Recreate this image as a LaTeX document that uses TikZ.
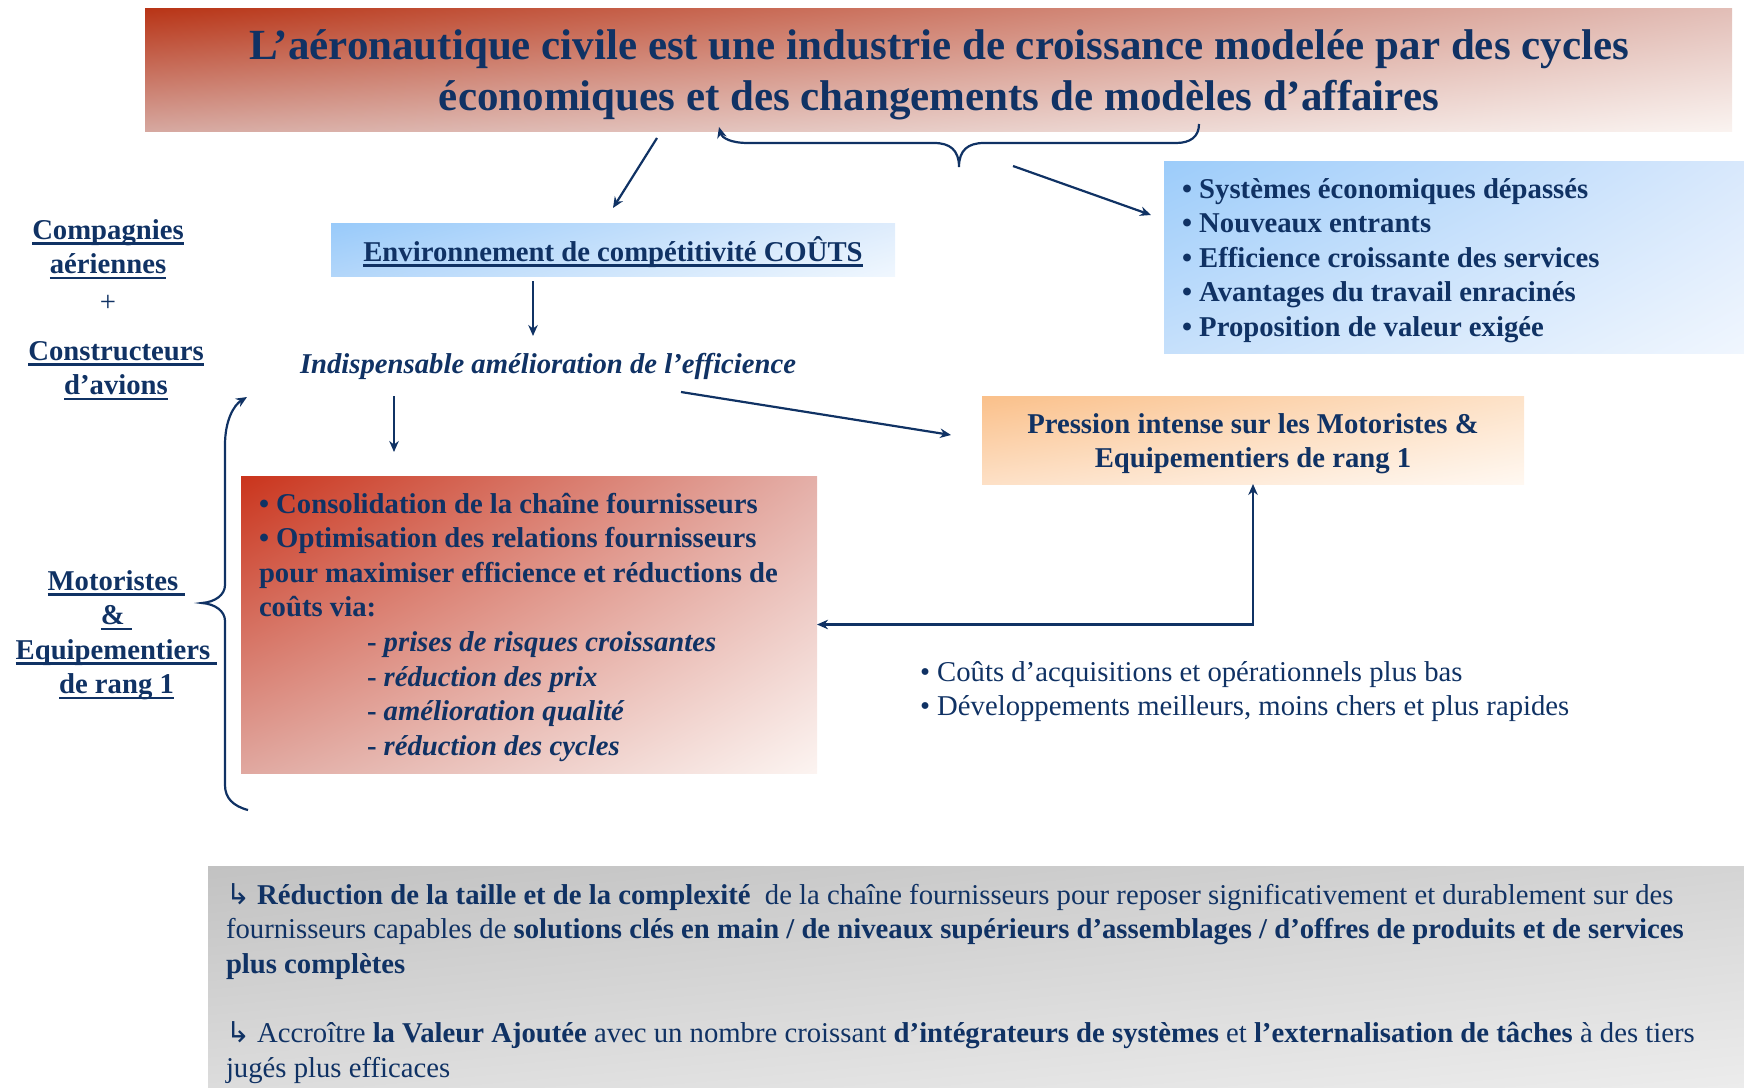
\documentclass[tikz,border=0pt]{standalone}
\usepackage{fontspec}
\setmainfont{Liberation Serif}
\newfontfamily\symfont{DejaVu Sans}
\usetikzlibrary{arrows.meta,calc,shadings}
\definecolor{navy}{RGB}{16,50,100}
\definecolor{tUL}{RGB}{184,52,22}\definecolor{tUR}{RGB}{226,190,183}\definecolor{tLL}{RGB}{214,168,160}\definecolor{tLR}{RGB}{250,243,240}
\definecolor{rUL}{RGB}{202,52,28}\definecolor{rUR}{RGB}{228,175,168}\definecolor{rLL}{RGB}{224,168,160}\definecolor{rLR}{RGB}{252,244,241}
\definecolor{pUL}{RGB}{250,192,138}\definecolor{pUR}{RGB}{253,226,200}\definecolor{pLL}{RGB}{253,224,198}\definecolor{pLR}{RGB}{255,248,241}
\definecolor{eUL}{RGB}{152,202,250}\definecolor{eUR}{RGB}{222,236,252}\definecolor{eLL}{RGB}{178,214,250}\definecolor{eLR}{RGB}{240,247,254}
\definecolor{sUL}{RGB}{156,204,250}\definecolor{sUR}{RGB}{216,232,252}\definecolor{sLL}{RGB}{198,224,251}\definecolor{sLR}{RGB}{240,246,254}
\definecolor{gUL}{RGB}{194,194,194}\definecolor{gUR}{RGB}{212,212,212}\definecolor{gLL}{RGB}{220,220,220}\definecolor{gLR}{RGB}{236,236,236}
\newcommand\bodysize{\fontsize{28.7}{34.6}\selectfont}
\newcommand\titlesize{\fontsize{43}{51.5}\selectfont}
\newcommand\myul[1]{\setbox0=\hbox{#1}\rlap{\rule[-5.5pt]{\wd0}{2.4pt}}\box0}
\newcommand\arw{{\symfont ↳}}
\tikzset{
  box/.style={rectangle,inner sep=0pt,outer sep=0pt,draw=none},
  txt/.style={text=navy,inner sep=0pt,outer sep=0pt,font=\bodysize},
  arr/.style={draw=navy,line width=2.2pt,-{Stealth[length=11pt,width=9.5pt]}},
  arrboth/.style={draw=navy,line width=2.2pt,{Stealth[length=11pt,width=9.5pt]}-{Stealth[length=11pt,width=9.5pt]}},
}
\begin{document}
\begin{tikzpicture}[x=1pt,y=-1pt]
\useasboundingbox (0,0) rectangle (1744,1087);
% boxes
\node[box,minimum width=1587pt,minimum height=123pt,upper left=tUL,upper right=tUR,lower left=tLL,lower right=tLR] (title) at (938.5,69.5) {};
\node[box,minimum width=564pt,minimum height=53pt,upper left=eUL,upper right=eUR,lower left=eLL,lower right=eLR] (env) at (613,249.5) {};
\node[box,minimum width=580pt,minimum height=192pt,upper left=sUL,upper right=sUR,lower left=sLL,lower right=sLR] (sys) at (1454,257) {};
\node[box,minimum width=542pt,minimum height=88pt,upper left=pUL,upper right=pUR,lower left=pLL,lower right=pLR] (press) at (1253,440) {};
\node[box,minimum width=576pt,minimum height=297pt,upper left=rUL,upper right=rUR,lower left=rLL,lower right=rLR] (red) at (529,624.5) {};
\node[box,minimum width=1536pt,minimum height=221pt,upper left=gUL,upper right=gUR,lower left=gLL,lower right=gLR] (gray) at (976,976.5) {};
% texts
\node[txt,font=\titlesize\bfseries,anchor=base] (titletext) at (939,59) {\begin{tabular}[t]{@{}c@{}}L’aéronautique civile est une industrie de croissance modelée par des cycles\\ économiques et des changements de modèles d’affaires\end{tabular}};
\node[txt,font=\bodysize\bfseries,anchor=base] (envtext) at (613,261) {\myul{Environnement de compétitivité COÛTS}};
\node[txt,font=\bodysize\bfseries\itshape,anchor=base west] (indisp) at (300,373) {Indispensable amélioration de l’efficience};
\node[txt,font=\bodysize\bfseries,anchor=base west] (systext) at (1182,198) {\begin{tabular}[t]{@{}l@{}}• Systèmes économiques dépassés\\ • Nouveaux entrants\\ • Efficience croissante des services\\ • Avantages du travail enracinés\\ • Proposition de valeur exigée\end{tabular}};
\node[txt,font=\bodysize\bfseries,anchor=base] (presstext) at (1253,433) {\begin{tabular}[t]{@{}c@{}}Pression intense sur les Motoristes \&\\ Equipementiers de rang 1\end{tabular}};
\node[txt,font=\bodysize\bfseries,anchor=base west] (redtext) at (259,513) {\begin{tabular}[t]{@{}l@{}}• Consolidation de la chaîne fournisseurs\\ • Optimisation des relations fournisseurs\\ pour maximiser efficience et réductions de\\ coûts via:\\ \hspace{108pt}- \textit{prises de risques croissantes}\\ \hspace{108pt}- \textit{réduction des prix}\\ \hspace{108pt}- \textit{amélioration qualité}\\ \hspace{108pt}- \textit{réduction des cycles}\end{tabular}};
\node[txt,anchor=base west] (coutstext) at (920,681) {\begin{tabular}[t]{@{}l@{}}• Coûts d’acquisitions et opérationnels plus bas\\ • Développements meilleurs, moins chers et plus rapides\end{tabular}};
\node[txt,font=\bodysize\bfseries,anchor=base] (lab1) at (108,239) {\begin{tabular}[t]{@{}c@{}}\myul{Compagnies}\\ \myul{aériennes}\\[3pt] \mdseries +\end{tabular}};
\node[txt,font=\bodysize\bfseries,anchor=base] (lab2) at (116,360) {\begin{tabular}[t]{@{}c@{}}\myul{Constructeurs}\\ \myul{d’avions}\end{tabular}};
\node[txt,font=\bodysize\bfseries,anchor=base] (lab3) at (116.5,590) {\begin{tabular}[t]{@{}c@{}}\myul{Motoristes\ }\\ \myul{\&\ }\\ \myul{Equipementiers\ }\\ \myul{de rang 1}\end{tabular}};
\node[txt,anchor=base west] (graytext) at (226,904) {\begin{tabular}[t]{@{}l@{}}\arw{} \textbf{Réduction de la taille et de la complexité}\ \ de la chaîne fournisseurs pour reposer significativement et durablement sur des\\ fournisseurs capables de \textbf{solutions clés en main / de niveaux supérieurs d’assemblages / d’offres de produits et de services}\\ \textbf{plus complètes}\\ \\ \arw{} Accroître \textbf{la Valeur Ajoutée} avec un nombre croissant \textbf{d’intégrateurs de systèmes} et \textbf{l’externalisation de tâches} à des tiers\\ jugés plus efficaces\end{tabular}};
% braces
\coordinate (braceR) at (1199,124);
\coordinate (bracetip) at (959,167);
\coordinate (braceL) at (719,127);
\draw[arr] (braceR) .. controls (1199,137) and (1190,143) .. (1176,143) -- (984,143) .. controls (968,143) and (959,150) .. (bracetip) .. controls (959,150) and (950,143) .. (934,143) -- (748,143) .. controls (731,143) and (722,138) .. (braceL);
\coordinate (lbBot) at (248,810);
\coordinate (lbTip) at (202,603);
\coordinate (lbTop) at (247,397);
\draw[arr] (lbBot) .. controls (233,806) and (225,798) .. (225,785) -- (225,621) .. controls (225,611) and (215,604) .. (lbTip) .. controls (215,602) and (225,595) .. (225,585) -- (225,445) .. controls (225,420) and (234,405) .. (lbTop);
% connectors
\draw[arr] ([shift={(-281.5,7)}]title.south) -- ([shift={(0,-15)}]env.north);
\draw[arr] ([shift={(54,-1)}]bracetip) -- ([shift={(-13,-42)}]sys.west);
\draw[arr] ([shift={(-80,5)}]env.south) -- ([shift={(233,-37)}]indisp.base west);
\draw[arr] ([shift={(94,23)}]indisp.base west) -- ([shift={(-135,-24)}]red.north);
\draw[arr] ([shift={(381,19)}]indisp.base west) -- ([shift={(-31,-5)}]press.west);
\draw[arrboth] (red.east) -| (press.south);
\end{tikzpicture}
\end{document}
